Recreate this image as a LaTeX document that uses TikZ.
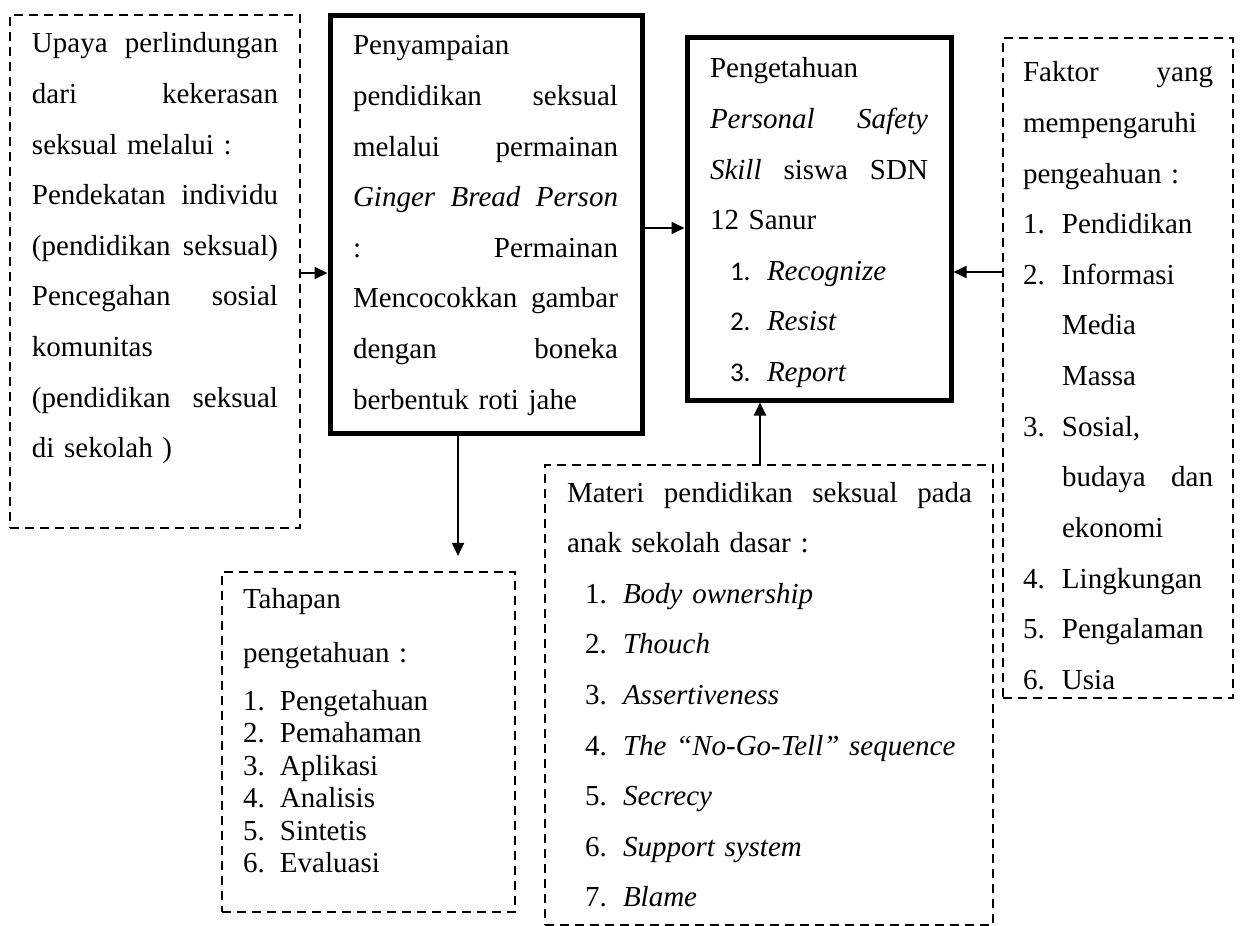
\documentclass[tikz,border=0pt]{standalone}
\usepackage{fontspec}
\setmainfont{Liberation Serif}
\newfontfamily\numfont{Carlito}
\usetikzlibrary{arrows.meta}
\newcommand\JL[1]{\hbox to\linewidth{#1}}
\newcommand\LL[1]{\hbox to\linewidth{#1\hfil}}
% indent, number width, number, text
\newcommand\NI[4]{\hbox to\linewidth{\hskip#1\hbox to #2{#3\hfil}#4\hfil}}
\begin{document}
\begin{tikzpicture}[x=0.5pt,y=-0.5pt,
  dbox/.style={draw, line width=1.1pt, dash pattern=on 4.5pt off 3pt, inner sep=0pt},
  tbox/.style={draw, line width=2.5pt, inner sep=0pt},
  txt/.style={anchor=base west, inner sep=0pt, outer sep=0pt,
    font=\fontsize{14.5}{25.3}\selectfont},
  arr/.style={line width=1pt, -{Triangle[length=6.5pt,width=6pt]}}]
\useasboundingbox[fill=white] (0,0) rectangle (1240,925);

% boxes
\node[dbox, minimum width=145pt, minimum height=256.5pt] (A) at (155,271.5) {};
\node[tbox, minimum width=156pt, minimum height=208.5pt] (B) at (486,224.5) {};
\node[tbox, minimum width=132pt, minimum height=181pt] (C) at (819,219) {};
\node[dbox, minimum width=115pt, minimum height=330pt] (D) at (1118,368) {};
\node[dbox, minimum width=146.5pt, minimum height=170pt] (E) at (368.5,742) {};
\node[dbox, minimum width=224pt, minimum height=230pt] (F) at (769,695) {};

% texts
\node[txt, text width=123pt] (tA) at (32,53) {%
\JL{Upaya\hfill perlindungan}
\JL{dari\hfill kekerasan}
\LL{seksual melalui :}
\JL{Pendekatan\hfill individu}
\JL{(pendidikan\hfill seksual)}
\JL{Pencegahan\hfill sosial}
\LL{komunitas}
\JL{(pendidikan\hfill seksual}
\LL{di sekolah )}};

\node[txt, text width=132.5pt] (tB) at (353,55) {%
\LL{Penyampaian}
\JL{pendidikan\hfill seksual}
\JL{melalui\hfill permainan}
\JL{\itshape Ginger\hfill Bread\hfill Person}
\JL{:\hfill Permainan}
\JL{Mencocokkan\hfill gambar}
\JL{dengan\hfill boneka}
\LL{berbentuk roti jahe}};

\node[txt, text width=109pt] (tC) at (710,78) {%
\LL{Pengetahuan}
\JL{\textit{Personal}\hfill\textit{Safety}}
\JL{\textit{Skill}\hfill siswa\hfill SDN}
\LL{12 Sanur}
\NI{10pt}{18.5pt}{\numfont\fontsize{13.5}{25.3}\selectfont 1.}{\textit{Recognize}}
\NI{10pt}{18.5pt}{\numfont\fontsize{13.5}{25.3}\selectfont 2.}{\textit{Resist}}
\NI{10pt}{18.5pt}{\numfont\fontsize{13.5}{25.3}\selectfont 3.}{\textit{Report}}};

\node[txt, text width=95pt] (tD) at (1023,82) {%
\JL{Faktor\hfill yang}
\LL{mempengaruhi}
\LL{pengeahuan :}
\NI{0pt}{19.5pt}{1.}{Pendidikan}
\NI{0pt}{19.5pt}{2.}{Informasi}
\NI{0pt}{19.5pt}{}{Media}
\NI{0pt}{19.5pt}{}{Massa}
\NI{0pt}{19.5pt}{3.}{Sosial,}
\JL{\hskip19.5pt budaya\hfill dan}
\NI{0pt}{19.5pt}{}{ekonomi}
\NI{0pt}{19.5pt}{4.}{Lingkungan}
\NI{0pt}{19.5pt}{5.}{Pengalaman}
\NI{0pt}{19.5pt}{6.}{Usia}};

\node[txt, text width=125pt, font=\fontsize{14.5}{27}\selectfont] (tE) at (243,608) {%
\LL{Tahapan}
\LL{pengetahuan :}};
\node[txt, text width=125pt, font=\fontsize{14.5}{16.25}\selectfont] (tE2) at (243,710) {%
\NI{0pt}{18.5pt}{1.}{Pengetahuan}
\NI{0pt}{18.5pt}{2.}{Pemahaman}
\NI{0pt}{18.5pt}{3.}{Aplikasi}
\NI{0pt}{18.5pt}{4.}{Analisis}
\NI{0pt}{18.5pt}{5.}{Sintetis}
\NI{0pt}{18.5pt}{6.}{Evaluasi}};

\node[txt, text width=202.5pt] (tF) at (567,502) {%
\JL{Materi\hfill pendidikan\hfill seksual\hfill pada}
\LL{anak sekolah dasar :}
\NI{9pt}{19pt}{1.}{\textit{Body ownership}}
\NI{9pt}{19pt}{2.}{\textit{Thouch}}
\NI{9pt}{19pt}{3.}{\textit{Assertiveness}}
\NI{9pt}{19pt}{4.}{\textit{The “No-Go-Tell” sequence}}
\NI{9pt}{19pt}{5.}{\textit{Secrecy}}
\NI{9pt}{19pt}{6.}{\textit{Support system}}
\NI{9pt}{19pt}{7.}{\textit{Blame}}};

% connector helpers
\coordinate (ab) at (0,273);
\coordinate (bc) at (0,228);
\coordinate (dc) at (0,272);
\coordinate (fc) at (760,0);
\coordinate (be) at (458,0);

% connectors
\draw[arr] (A.east |- ab) -- (B.west |- ab);
\draw[arr] (B.east |- bc) -- (C.west |- bc);
\draw[arr] (D.west |- dc) -- (C.east |- dc);
\draw[arr] (F.north -| fc) -- (C.south -| fc);
\draw[arr, shorten >=7.5pt] (B.south -| be) -- (E.north -| be);
\end{tikzpicture}
\end{document}
